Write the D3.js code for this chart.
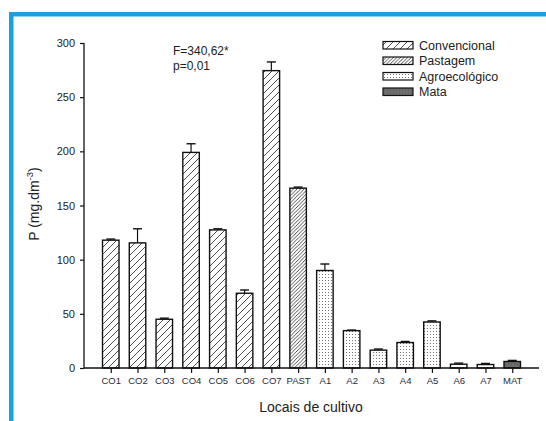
<!DOCTYPE html>
<html>
<head>
<meta charset="utf-8">
<script src="https://cdn.jsdelivr.net/npm/d3@7"></script>
<style>
  html, body { margin: 0; padding: 0; background: #fff; }
  svg { display: block; font-family: Arial, "Liberation Sans", sans-serif; }
</style>
</head>
<body>
<svg id="chart" width="546" height="421"></svg>
<script>
// Phosphorus (P) by cultivation site
const categories = ["CO1","CO2","CO3","CO4","CO5","CO6","CO7","PAST","A1","A2","A3","A4","A5","A6","A7","MAT"];
const values     = [118, 115.5, 45, 199, 127.5, 69, 274.5, 166, 90, 34.5, 16.5, 23.5, 42.5, 3.5, 3.2, 6];
const errors     = [1, 13, 1, 8, 1, 3, 8, 1, 6, 0.5, 1, 1, 1, 1, 1, 1];
const groups     = ["conv","conv","conv","conv","conv","conv","conv","past","agro","agro","agro","agro","agro","agro","agro","mata"];
const legendLabels = ["Convencional","Pastagem","Agroecológico","Mata"];
const legendKeys   = ["conv","past","agro","mata"];
const yTicks = [0, 50, 100, 150, 200, 250, 300];

const svg = d3.select("#chart");

// frame: blue rule along top and left
svg.append("rect").attr("x", 9).attr("y", 12).attr("width", 546 - 9).attr("height", 4.5).attr("fill", "#1aa0dc");
svg.append("rect").attr("x", 9).attr("y", 12).attr("width", 4.5).attr("height", 421 - 12).attr("fill", "#1aa0dc");

// fill patterns
const defs = svg.append("defs");
function hatch(id, step) {
  const p = defs.append("pattern").attr("id", id).attr("patternUnits", "userSpaceOnUse")
    .attr("width", step).attr("height", step);
  p.append("rect").attr("width", step).attr("height", step).attr("fill", "#fff");
  p.append("path").attr("d", `M0,${step} L${step},0 M${-step/2},${step/2} L${step/2},${-step/2} M${step/2},${step*1.5} L${step*1.5},${step/2}`)
    .attr("stroke", "#222").attr("stroke-width", 0.8);
}
hatch("pat-conv", 7);
hatch("pat-past", 3.6);
{
  const p = defs.append("pattern").attr("id", "pat-agro").attr("patternUnits", "userSpaceOnUse")
    .attr("width", 3).attr("height", 3);
  p.append("rect").attr("width", 3).attr("height", 3).attr("fill", "#fff");
  p.append("rect").attr("x", 1).attr("y", 1).attr("width", 1).attr("height", 1).attr("fill", "#777");
}
{
  const p = defs.append("pattern").attr("id", "pat-mata").attr("patternUnits", "userSpaceOnUse")
    .attr("width", 3).attr("height", 3);
  p.append("rect").attr("width", 3).attr("height", 3).attr("fill", "#6e6e6e");
  p.append("rect").attr("x", 1).attr("y", 1).attr("width", 1).attr("height", 1).attr("fill", "#555");
}

const x0 = 84, x1 = 539, yTop = 43, yBot = 368;
const x = d3.scalePoint().domain(categories).range([x0, x1]).padding(1);
const y = d3.scaleLinear().domain([0, 300]).range([yBot, yTop]);
const barW = 16.5;

// bars
const g = svg.append("g");
categories.forEach((c, i) => {
  const cx = x(c);
  const top = y(values[i]);
  const errTop = y(values[i] + errors[i]);
  // error whisker (upper only)
  g.append("line").attr("x1", cx).attr("x2", cx).attr("y1", top).attr("y2", errTop)
    .attr("stroke", "#111").attr("stroke-width", 1.2);
  g.append("line").attr("x1", cx - 4.5).attr("x2", cx + 4.5).attr("y1", errTop).attr("y2", errTop)
    .attr("stroke", "#111").attr("stroke-width", 1.4);
  g.append("rect").attr("x", cx - barW / 2).attr("y", top)
    .attr("width", barW).attr("height", y(0) - top)
    .attr("fill", `url(#pat-${groups[i]})`)
    .attr("stroke", "#111").attr("stroke-width", 1.4);
});

// axes
const yAxis = d3.axisLeft(y).tickValues(yTicks).tickSize(4).tickPadding(5).tickFormat(d3.format("d"));
const ya = svg.append("g").attr("transform", `translate(${x0},0)`).call(yAxis);
ya.select(".domain").attr("d", `M-0,${yTop}V${yBot}`).attr("stroke", "#111").attr("stroke-width", 1.3);
ya.selectAll(".tick line").attr("stroke", "#111").attr("stroke-width", 1.2);
ya.selectAll(".tick text").attr("font-size", 11).attr("fill", "#222").attr("font-family", "Arial, 'Liberation Sans', sans-serif");

const xAxis = d3.axisBottom(x).tickSize(5).tickPadding(4);
const xa = svg.append("g").attr("transform", `translate(0,${yBot})`).call(xAxis);
xa.select(".domain").attr("d", `M${x0},0H${x1}`).attr("stroke", "#111").attr("stroke-width", 1.3);
xa.selectAll(".tick line").attr("stroke", "#111").attr("stroke-width", 1.2);
xa.selectAll(".tick text").attr("font-size", 9.5).attr("fill", "#2a2a3a").attr("font-family", "Arial, 'Liberation Sans', sans-serif");

// axis titles
const yl = svg.append("text").attr("transform", "translate(39,204) rotate(-90)")
  .attr("text-anchor", "middle").attr("font-size", 14).attr("fill", "#222");
yl.append("tspan").text("P (mg.dm");
yl.append("tspan").attr("dy", -6).attr("font-size", 9.5).text("-3");
yl.append("tspan").attr("dy", 6).text(")");

svg.append("text").attr("x", 311).attr("y", 412).attr("text-anchor", "middle")
  .attr("font-size", 14).attr("fill", "#222").text("Locais de cultivo");

// statistics note
svg.append("text").attr("x", 173).attr("y", 55).attr("font-size", 12).attr("fill", "#222").text("F=340,62*");
svg.append("text").attr("x", 173).attr("y", 70).attr("font-size", 12).attr("fill", "#222").text("p=0,01");

// legend
const lg = svg.append("g").attr("transform", "translate(383,45)");
legendKeys.forEach((k, i) => {
  const row = lg.append("g").attr("transform", `translate(0,${i * 15.5})`);
  row.append("rect").attr("x", 0).attr("y", -3.5).attr("width", 30).attr("height", 7.5)
    .attr("fill", `url(#pat-${k})`).attr("stroke", "#111").attr("stroke-width", 1.2);
  row.append("text").attr("x", 36).attr("y", 4.5).attr("font-size", 12.5).attr("fill", "#222").text(legendLabels[i]);
});
</script>
</body>
</html>
